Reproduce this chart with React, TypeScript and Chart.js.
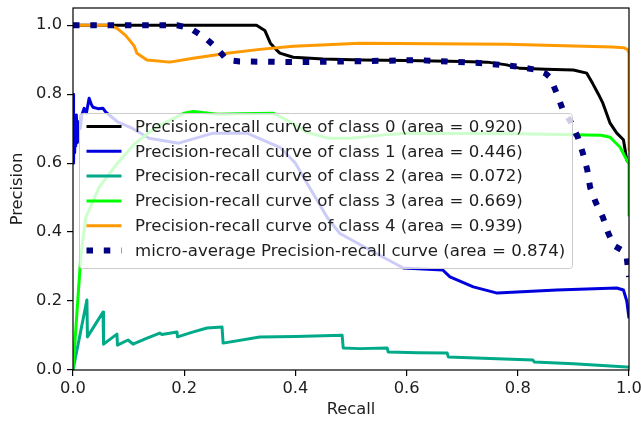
import React, { useEffect, useRef } from 'react';
import { Chart, registerables } from 'chart.js';

Chart.register(...registerables);

// ---- Data ----
const RECALL_0 = [0, 0.33, 0.345, 0.355, 0.365, 0.372, 0.396, 0.45, 0.52, 0.6, 0.7, 0.745, 0.78, 0.804, 0.85, 0.9, 0.924, 0.935, 0.945, 0.953, 0.966, 0.978, 0.99, 0.996, 1.0];
const PRECISION_0 = [1.0, 1.0, 0.985, 0.948, 0.93, 0.919, 0.907, 0.902, 0.899, 0.898, 0.895, 0.893, 0.885, 0.875, 0.872, 0.87, 0.861, 0.83, 0.8, 0.774, 0.716, 0.687, 0.668, 0.609, 0.6];

const RECALL_1 = [0, 0.001, 0.002, 0.003, 0.004, 0.005, 0.006, 0.008, 0.01, 0.013, 0.016, 0.02, 0.024, 0.029, 0.033, 0.036, 0.045, 0.054, 0.059, 0.08, 0.103, 0.137, 0.19, 0.252, 0.313, 0.372, 0.4, 0.421, 0.457, 0.48, 0.534, 0.594, 0.665, 0.678, 0.72, 0.763, 0.87, 0.978, 0.99, 0.996, 1.0];
const PRECISION_1 = [0.8, 0.6, 0.73, 0.63, 0.72, 0.65, 0.74, 0.66, 0.72, 0.7, 0.74, 0.759, 0.745, 0.788, 0.77, 0.762, 0.758, 0.759, 0.748, 0.72, 0.704, 0.672, 0.658, 0.687, 0.687, 0.646, 0.6, 0.542, 0.443, 0.396, 0.348, 0.296, 0.29, 0.27, 0.241, 0.223, 0.232, 0.238, 0.232, 0.2, 0.15];

const RECALL_2 = [0, 0.025, 0.026, 0.054, 0.055, 0.079, 0.08, 0.099, 0.108, 0.13, 0.156, 0.16, 0.187, 0.188, 0.215, 0.241, 0.268, 0.27, 0.336, 0.4, 0.484, 0.486, 0.516, 0.565, 0.567, 0.62, 0.673, 0.675, 0.75, 0.827, 0.83, 0.9, 0.996, 1.0];
const PRECISION_2 = [0, 0.203, 0.096, 0.168, 0.075, 0.104, 0.072, 0.087, 0.075, 0.09, 0.107, 0.103, 0.11, 0.096, 0.11, 0.122, 0.125, 0.078, 0.096, 0.097, 0.101, 0.064, 0.062, 0.064, 0.052, 0.05, 0.049, 0.038, 0.033, 0.029, 0.023, 0.018, 0.009, 0.008];

const RECALL_3 = [0, 0.014, 0.023, 0.047, 0.08, 0.11, 0.149, 0.2, 0.216, 0.26, 0.3, 0.36, 0.39, 0.42, 0.46, 0.5, 0.56, 0.6, 0.7, 0.8, 0.9, 0.95, 0.966, 0.984, 0.996, 1.0, 1.0];
const PRECISION_3 = [0, 0.328, 0.443, 0.53, 0.6, 0.655, 0.704, 0.745, 0.75, 0.742, 0.743, 0.745, 0.72, 0.69, 0.672, 0.672, 0.682, 0.687, 0.686, 0.685, 0.682, 0.681, 0.675, 0.646, 0.609, 0.6, 0.449];

const RECALL_4 = [0, 0.067, 0.08, 0.095, 0.11, 0.115, 0.133, 0.174, 0.216, 0.277, 0.336, 0.396, 0.516, 0.78, 0.97, 0.99, 0.997, 1.0, 1.0];
const PRECISION_4 = [1.0, 1.0, 0.99, 0.97, 0.94, 0.919, 0.899, 0.893, 0.904, 0.919, 0.93, 0.939, 0.948, 0.945, 0.937, 0.935, 0.93, 0.92, 0.638];

const RECALL_MICRO = [0, 0.187, 0.2, 0.216, 0.24, 0.259, 0.277, 0.3, 0.4, 0.5, 0.619, 0.737, 0.8, 0.835, 0.85, 0.858, 0.87, 0.88, 0.895, 0.908, 0.917, 0.925, 0.93, 0.94, 0.953, 0.962, 0.972, 0.987, 0.996, 1.0];
const PRECISION_MICRO = [1.0, 1.0, 0.995, 0.986, 0.96, 0.933, 0.899, 0.895, 0.893, 0.895, 0.899, 0.89, 0.88, 0.87, 0.86, 0.849, 0.803, 0.759, 0.72, 0.675, 0.629, 0.58, 0.53, 0.487, 0.443, 0.4, 0.362, 0.348, 0.325, 0.27];

const SERIES_LABELS = [
  'Precision-recall curve of class 0 (area = 0.920)',
  'Precision-recall curve of class 1 (area = 0.446)',
  'Precision-recall curve of class 2 (area = 0.072)',
  'Precision-recall curve of class 3 (area = 0.669)',
  'Precision-recall curve of class 4 (area = 0.939)',
  'micro-average Precision-recall curve (area = 0.874)',
];

const X_TICKS = [0, 0.2, 0.4, 0.6, 0.8, 1.0];
const Y_TICKS = [0, 0.2, 0.4, 0.6, 0.8, 1.0];
const X_LABEL = 'Recall';
const Y_LABEL = 'Precision';

// ---- Styles ----
const COLORS = ['#000000', '#0000dd', '#00aa88', '#00ff00', '#ff9900', '#000080'];
const FONT_FAMILY = '"DejaVu Sans", Verdana, sans-serif';
const TEXT_COLOR = '#1e1e1e';

const SERIES = [
  [RECALL_0, PRECISION_0],
  [RECALL_1, PRECISION_1],
  [RECALL_2, PRECISION_2],
  [RECALL_3, PRECISION_3],
  [RECALL_4, PRECISION_4],
  [RECALL_MICRO, PRECISION_MICRO],
];

const zip = (r: number[], p: number[]) => r.map((x, i) => ({ x, y: p[i] }));

const frameAndLegend = {
  id: 'frameAndLegend',
  afterDatasetsDraw(chart: any) {
    const { ctx, chartArea } = chart;
    const { left, top, right, bottom } = chartArea;
    ctx.save();
    // legend box
    const bx = left + 6.5, by = top + 105.5, bw = 493, bh = 155, r = 3;
    ctx.beginPath();
    ctx.moveTo(bx + r, by);
    ctx.lineTo(bx + bw - r, by);
    ctx.quadraticCurveTo(bx + bw, by, bx + bw, by + r);
    ctx.lineTo(bx + bw, by + bh - r);
    ctx.quadraticCurveTo(bx + bw, by + bh, bx + bw - r, by + bh);
    ctx.lineTo(bx + r, by + bh);
    ctx.quadraticCurveTo(bx, by + bh, bx, by + bh - r);
    ctx.lineTo(bx, by + r);
    ctx.quadraticCurveTo(bx, by, bx + r, by);
    ctx.closePath();
    ctx.fillStyle = 'rgba(255,255,255,0.8)';
    ctx.fill();
    ctx.strokeStyle = '#cccccc';
    ctx.lineWidth = 1;
    ctx.stroke();

    chart.data.datasets.forEach((ds: any, i: number) => {
      const y = by + 13 + i * 24.8;
      ctx.beginPath();
      ctx.strokeStyle = ds.borderColor;
      ctx.lineWidth = ds.borderWidth;
      ctx.setLineDash(ds.borderDash || []);
      ctx.lineCap = 'butt';
      ctx.moveTo(bx + 7, y);
      ctx.lineTo(bx + 42, y);
      ctx.stroke();
      ctx.setLineDash([]);
      ctx.fillStyle = TEXT_COLOR;
      ctx.font = `16.6px ${FONT_FAMILY}`;
      ctx.textBaseline = 'middle';
      ctx.textAlign = 'left';
      ctx.fillText(ds.label, bx + 55.5, y + 1);
    });

    // axes frame
    ctx.strokeStyle = '#000';
    ctx.lineWidth = 1.2;
    ctx.strokeRect(left, top, right - left, bottom - top);
    ctx.restore();
  },
};

export default function App() {
  const ref = useRef<HTMLCanvasElement>(null);

  useEffect(() => {
    if (!ref.current) return;
    const datasets = SERIES.map(([r, p], i) => {
      const micro = i === 5;
      return {
        label: SERIES_LABELS[i],
        data: zip(r, p),
        borderColor: COLORS[i],
        backgroundColor: COLORS[i],
        borderWidth: micro ? 6 : 3,
        borderDash: micro ? [6.5, 10.8] : [],
        borderCapStyle: 'butt',
        borderJoinStyle: 'round',
        pointRadius: 0,
        pointHoverRadius: 0,
        fill: false,
        tension: 0,
        clip: 0,
        order: 10 - i,
      };
    });
    const tickFont = { family: FONT_FAMILY, size: 16.3 };
    const chart = new Chart(ref.current, {
      type: 'line',
      data: { datasets } as any,
      plugins: [frameAndLegend],
      options: {
        animation: false,
        responsive: false,
        events: [],
        layout: { padding: { left: 0, right: 12, top: 8, bottom: 0 } },
        plugins: { legend: { display: false }, tooltip: { enabled: false } },
        scales: {
          x: {
            type: 'linear',
            min: 0,
            max: 1,
            afterBuildTicks: (s: any) => { s.ticks = X_TICKS.map((v) => ({ value: v })); },
            afterFit: (s: any) => { s.height = 54; s.paddingLeft = 0; s.paddingRight = 0; },
            ticks: { callback: (v: any) => Number(v).toFixed(1), font: tickFont, color: TEXT_COLOR, padding: 3, maxRotation: 0, autoSkip: false },
            grid: { display: true, drawOnChartArea: false, drawTicks: true, tickLength: 6, color: '#000', lineWidth: 1.2 },
            border: { display: false },
            title: { display: true, text: X_LABEL, font: tickFont, color: TEXT_COLOR, padding: { top: 0, bottom: 4 } },
          },
          y: {
            type: 'linear',
            min: 0,
            max: 1.05,
            afterBuildTicks: (s: any) => { s.ticks = Y_TICKS.map((v) => ({ value: v })); },
            afterFit: (s: any) => { s.width = 73; s.paddingTop = 0; s.paddingBottom = 0; },
            ticks: { callback: (v: any) => Number(v).toFixed(1), font: tickFont, color: TEXT_COLOR, padding: 5, autoSkip: false },
            grid: { display: true, drawOnChartArea: false, drawTicks: true, tickLength: 6, color: '#000', lineWidth: 1.2 },
            border: { display: false },
            title: { display: true, text: Y_LABEL, font: tickFont, color: TEXT_COLOR, padding: { top: 8, bottom: 0 } },
          },
        },
      } as any,
    });
    return () => chart.destroy();
  }, []);

  return (
    <div style={{ position: 'absolute', left: 0, top: 0, width: 641, height: 424, background: '#fff' }}>
      <canvas ref={ref} width={641} height={424} style={{ width: 641, height: 424 }} />
    </div>
  );
}
